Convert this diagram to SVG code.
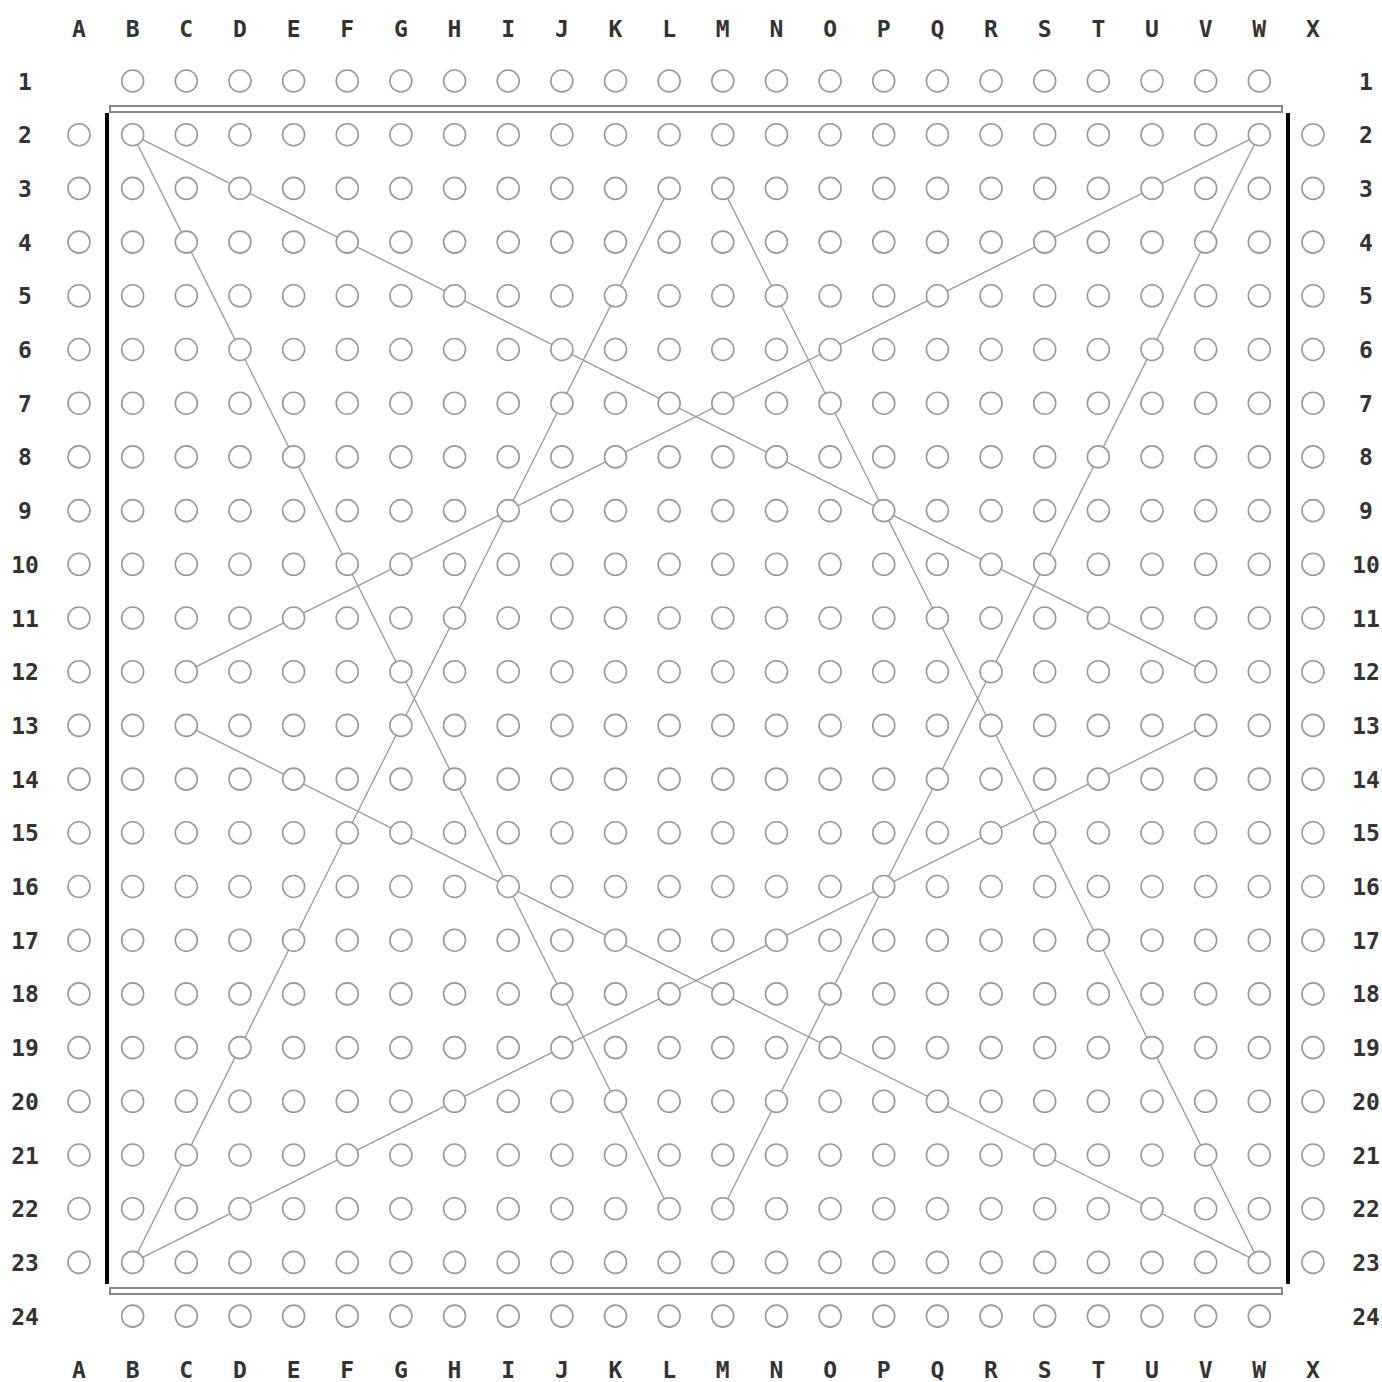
<svg xmlns="http://www.w3.org/2000/svg" width="1382" height="1382" viewBox="0 0 1382 1382">
<style>
.lbl{font-family:"DejaVu Sans Mono","Liberation Mono",monospace;font-weight:bold;font-size:23px;fill:#333;text-anchor:middle}
.pegs circle{fill:#fff;stroke:#999;stroke-width:1.6}
.conn line{stroke:#999;stroke-width:1.3}
</style>
<rect width="1382" height="1382" fill="#fff"/>
<g id="frame">
<rect x="110" y="106" width="1172" height="6" fill="none" stroke="#888" stroke-width="2"/>
<rect x="110" y="1288" width="1172" height="6" fill="none" stroke="#888" stroke-width="2"/>
<line x1="107" y1="113" x2="107" y2="1284" stroke="#000" stroke-width="4"/>
<line x1="1288" y1="113" x2="1288" y2="1284" stroke="#000" stroke-width="4"/>
</g>
<g id="connectors" class="conn">
<line x1="132.65" y1="134.7" x2="1205.65" y2="671.7"/>
<line x1="132.65" y1="134.7" x2="669.15" y2="1208.7"/>
<line x1="1259.3" y1="134.7" x2="186.3" y2="671.7"/>
<line x1="1259.3" y1="134.7" x2="722.8" y2="1208.7"/>
<line x1="669.15" y1="188.4" x2="132.65" y2="1262.4"/>
<line x1="722.8" y1="188.4" x2="1259.3" y2="1262.4"/>
<line x1="186.3" y1="725.4" x2="1259.3" y2="1262.4"/>
<line x1="1205.65" y1="725.4" x2="132.65" y2="1262.4"/>
</g>
<g id="pegs" class="pegs">
<g id="row1" transform="translate(0,81)"><circle cx="132.65" r="11"/><circle cx="186.3" r="11"/><circle cx="239.95" r="11"/><circle cx="293.6" r="11"/><circle cx="347.25" r="11"/><circle cx="400.9" r="11"/><circle cx="454.55" r="11"/><circle cx="508.2" r="11"/><circle cx="561.85" r="11"/><circle cx="615.5" r="11"/><circle cx="669.15" r="11"/><circle cx="722.8" r="11"/><circle cx="776.45" r="11"/><circle cx="830.1" r="11"/><circle cx="883.75" r="11"/><circle cx="937.4" r="11"/><circle cx="991.05" r="11"/><circle cx="1044.7" r="11"/><circle cx="1098.35" r="11"/><circle cx="1152" r="11"/><circle cx="1205.65" r="11"/><circle cx="1259.3" r="11"/></g>
<g id="row24" transform="translate(0,1316.1)"><circle cx="132.65" r="11"/><circle cx="186.3" r="11"/><circle cx="239.95" r="11"/><circle cx="293.6" r="11"/><circle cx="347.25" r="11"/><circle cx="400.9" r="11"/><circle cx="454.55" r="11"/><circle cx="508.2" r="11"/><circle cx="561.85" r="11"/><circle cx="615.5" r="11"/><circle cx="669.15" r="11"/><circle cx="722.8" r="11"/><circle cx="776.45" r="11"/><circle cx="830.1" r="11"/><circle cx="883.75" r="11"/><circle cx="937.4" r="11"/><circle cx="991.05" r="11"/><circle cx="1044.7" r="11"/><circle cx="1098.35" r="11"/><circle cx="1152" r="11"/><circle cx="1205.65" r="11"/><circle cx="1259.3" r="11"/></g>
<defs>
<g id="fullrow"><circle cx="79" r="11"/><circle cx="132.65" r="11"/><circle cx="186.3" r="11"/><circle cx="239.95" r="11"/><circle cx="293.6" r="11"/><circle cx="347.25" r="11"/><circle cx="400.9" r="11"/><circle cx="454.55" r="11"/><circle cx="508.2" r="11"/><circle cx="561.85" r="11"/><circle cx="615.5" r="11"/><circle cx="669.15" r="11"/><circle cx="722.8" r="11"/><circle cx="776.45" r="11"/><circle cx="830.1" r="11"/><circle cx="883.75" r="11"/><circle cx="937.4" r="11"/><circle cx="991.05" r="11"/><circle cx="1044.7" r="11"/><circle cx="1098.35" r="11"/><circle cx="1152" r="11"/><circle cx="1205.65" r="11"/><circle cx="1259.3" r="11"/><circle cx="1312.95" r="11"/></g>
</defs>
<use id="row2" href="#fullrow" y="134.7"/>
<use id="row3" href="#fullrow" y="188.4"/>
<use id="row4" href="#fullrow" y="242.1"/>
<use id="row5" href="#fullrow" y="295.8"/>
<use id="row6" href="#fullrow" y="349.5"/>
<use id="row7" href="#fullrow" y="403.2"/>
<use id="row8" href="#fullrow" y="456.9"/>
<use id="row9" href="#fullrow" y="510.6"/>
<use id="row10" href="#fullrow" y="564.3"/>
<use id="row11" href="#fullrow" y="618"/>
<use id="row12" href="#fullrow" y="671.7"/>
<use id="row13" href="#fullrow" y="725.4"/>
<use id="row14" href="#fullrow" y="779.1"/>
<use id="row15" href="#fullrow" y="832.8"/>
<use id="row16" href="#fullrow" y="886.5"/>
<use id="row17" href="#fullrow" y="940.2"/>
<use id="row18" href="#fullrow" y="993.9"/>
<use id="row19" href="#fullrow" y="1047.6"/>
<use id="row20" href="#fullrow" y="1101.3"/>
<use id="row21" href="#fullrow" y="1155"/>
<use id="row22" href="#fullrow" y="1208.7"/>
<use id="row23" href="#fullrow" y="1262.4"/>
</g>
<g id="col-labels-top" class="lbl" transform="translate(0,36.5)">
<text x="79">A</text><text x="132.65">B</text><text x="186.3">C</text><text x="239.95">D</text><text x="293.6">E</text><text x="347.25">F</text><text x="400.9">G</text><text x="454.55">H</text><text x="508.2">I</text><text x="561.85">J</text><text x="615.5">K</text><text x="669.15">L</text><text x="722.8">M</text><text x="776.45">N</text><text x="830.1">O</text><text x="883.75">P</text><text x="937.4">Q</text><text x="991.05">R</text><text x="1044.7">S</text><text x="1098.35">T</text><text x="1152">U</text><text x="1205.65">V</text><text x="1259.3">W</text><text x="1312.95">X</text>
</g>
<g id="col-labels-bottom" class="lbl" transform="translate(0,1378)">
<text x="79">A</text><text x="132.65">B</text><text x="186.3">C</text><text x="239.95">D</text><text x="293.6">E</text><text x="347.25">F</text><text x="400.9">G</text><text x="454.55">H</text><text x="508.2">I</text><text x="561.85">J</text><text x="615.5">K</text><text x="669.15">L</text><text x="722.8">M</text><text x="776.45">N</text><text x="830.1">O</text><text x="883.75">P</text><text x="937.4">Q</text><text x="991.05">R</text><text x="1044.7">S</text><text x="1098.35">T</text><text x="1152">U</text><text x="1205.65">V</text><text x="1259.3">W</text><text x="1312.95">X</text>
</g>
<g id="row-labels-left" class="lbl" transform="translate(25,8.5)">
<text y="81">1</text><text y="134.7">2</text><text y="188.4">3</text><text y="242.1">4</text><text y="295.8">5</text><text y="349.5">6</text><text y="403.2">7</text><text y="456.9">8</text><text y="510.6">9</text><text y="564.3">10</text><text y="618">11</text><text y="671.7">12</text><text y="725.4">13</text><text y="779.1">14</text><text y="832.8">15</text><text y="886.5">16</text><text y="940.2">17</text><text y="993.9">18</text><text y="1047.6">19</text><text y="1101.3">20</text><text y="1155">21</text><text y="1208.7">22</text><text y="1262.4">23</text><text y="1316.1">24</text>
</g>
<g id="row-labels-right" class="lbl" transform="translate(1366,8.5)">
<text y="81">1</text><text y="134.7">2</text><text y="188.4">3</text><text y="242.1">4</text><text y="295.8">5</text><text y="349.5">6</text><text y="403.2">7</text><text y="456.9">8</text><text y="510.6">9</text><text y="564.3">10</text><text y="618">11</text><text y="671.7">12</text><text y="725.4">13</text><text y="779.1">14</text><text y="832.8">15</text><text y="886.5">16</text><text y="940.2">17</text><text y="993.9">18</text><text y="1047.6">19</text><text y="1101.3">20</text><text y="1155">21</text><text y="1208.7">22</text><text y="1262.4">23</text><text y="1316.1">24</text>
</g>
</svg>
